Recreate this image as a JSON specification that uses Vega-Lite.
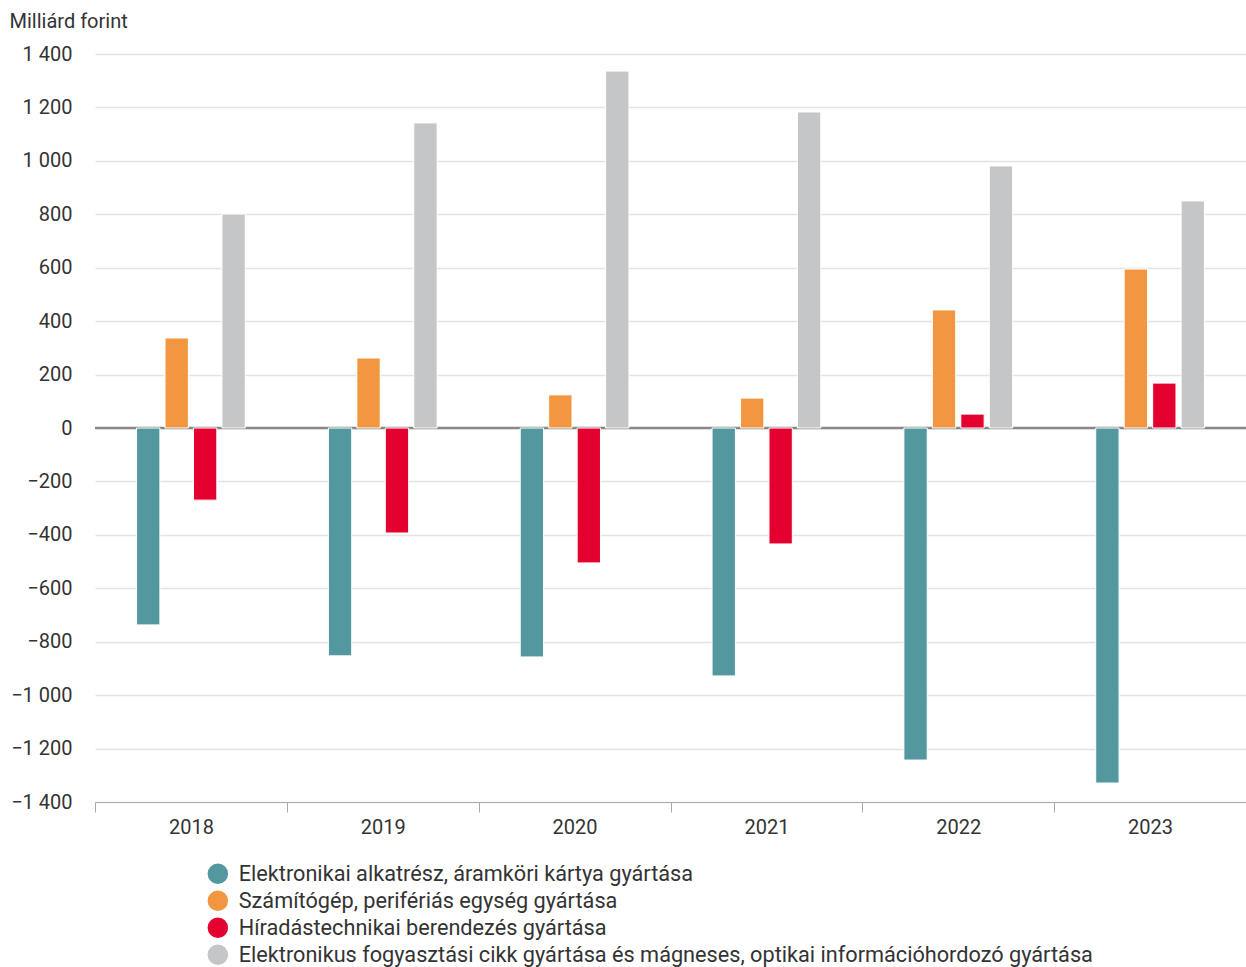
{
  "$schema": "https://vega.github.io/schema/vega-lite/v6.json",
  "width": 1151,
  "height": 748,
  "autosize": {"type": "none"},
  "padding": {"left": 95, "top": 54, "right": 0, "bottom": 165},
  "background": "white",
  "config": {
    "font": "Roboto",
    "view": {"stroke": null}
  },
  "data": {
    "values": [
      {"year": "2018", "series": "Elektronikai alkatrész, áramköri kártya gyártása", "value": -737},
      {"year": "2018", "series": "Számítógép, perifériás egység gyártása", "value": 337},
      {"year": "2018", "series": "Híradástechnikai berendezés gyártása", "value": -270},
      {"year": "2018", "series": "Elektronikus fogyasztási cikk gyártása és mágneses, optikai információhordozó gyártása", "value": 801},
      {"year": "2019", "series": "Elektronikai alkatrész, áramköri kártya gyártása", "value": -853},
      {"year": "2019", "series": "Számítógép, perifériás egység gyártása", "value": 262},
      {"year": "2019", "series": "Híradástechnikai berendezés gyártása", "value": -393},
      {"year": "2019", "series": "Elektronikus fogyasztási cikk gyártása és mágneses, optikai információhordozó gyártása", "value": 1142},
      {"year": "2020", "series": "Elektronikai alkatrész, áramköri kártya gyártása", "value": -857},
      {"year": "2020", "series": "Számítógép, perifériás egység gyártása", "value": 124},
      {"year": "2020", "series": "Híradástechnikai berendezés gyártása", "value": -505},
      {"year": "2020", "series": "Elektronikus fogyasztási cikk gyártása és mágneses, optikai információhordozó gyártása", "value": 1336},
      {"year": "2021", "series": "Elektronikai alkatrész, áramköri kártya gyártása", "value": -928},
      {"year": "2021", "series": "Számítógép, perifériás egység gyártása", "value": 112},
      {"year": "2021", "series": "Híradástechnikai berendezés gyártása", "value": -434},
      {"year": "2021", "series": "Elektronikus fogyasztási cikk gyártása és mágneses, optikai információhordozó gyártása", "value": 1183},
      {"year": "2022", "series": "Elektronikai alkatrész, áramköri kártya gyártása", "value": -1243},
      {"year": "2022", "series": "Számítógép, perifériás egység gyártása", "value": 442},
      {"year": "2022", "series": "Híradástechnikai berendezés gyártása", "value": 52},
      {"year": "2022", "series": "Elektronikus fogyasztási cikk gyártása és mágneses, optikai információhordozó gyártása", "value": 981},
      {"year": "2023", "series": "Elektronikai alkatrész, áramköri kártya gyártása", "value": -1329},
      {"year": "2023", "series": "Számítógép, perifériás egység gyártása", "value": 595},
      {"year": "2023", "series": "Híradástechnikai berendezés gyártása", "value": 168},
      {"year": "2023", "series": "Elektronikus fogyasztási cikk gyártása és mágneses, optikai információhordozó gyártása", "value": 850}
    ]
  },
  "layer": [
    {
      "data": {"values": [{"zero": 0}]},
      "mark": {"type": "rule", "color": "#888888", "strokeWidth": 2.5},
      "encoding": {"y": {"field": "zero", "type": "quantitative"}}
    },
    {
      "mark": {"type": "bar", "stroke": "white", "strokeWidth": 1},
      "encoding": {
        "x": {
          "field": "year", "type": "nominal",
          "scale": {"paddingInner": 0, "paddingOuter": 0},
          "axis": {
            "title": null, "labelAngle": 0, "tickBand": "extent",
            "tickSize": 10, "tickColor": "#aaaaaa", "domainColor": "#aaaaaa",
            "labelFontSize": 20, "labelColor": "#333333", "labelPadding": 5
          }
        },
        "xOffset": {
          "field": "series", "type": "nominal",
          "scale": {
            "domain": ["_pad1", "Elektronikai alkatrész, áramköri kártya gyártása", "Számítógép, perifériás egység gyártása", "Híradástechnikai berendezés gyártása", "Elektronikus fogyasztási cikk gyártása és mágneses, optikai információhordozó gyártása", "_pad2"],
            "paddingInner": 0.18, "paddingOuter": 0.46
          }
        },
        "y": {
          "field": "value", "type": "quantitative",
          "scale": {"domain": [-1400, 1400], "nice": false},
          "axis": {
            "title": "Milliárd forint", "titleAngle": 0, "titleAlign": "left",
            "titleBaseline": "middle", "titleX": -86, "titleY": -33,
            "titleFontSize": 20, "titleFontWeight": "normal", "titleColor": "#333333",
            "values": [-1400, -1200, -1000, -800, -600, -400, -200, 0, 200, 400, 600, 800, 1000, 1200, 1400],
            "labelExpr": "replace(format(datum.value, ','), ',', ' ')",
            "labelFontSize": 20, "labelColor": "#333333", "labelPadding": 23,
            "ticks": false, "domain": false,
            "gridColor": "#e3e3e3", "gridWidth": 1.5
          }
        },
        "color": {
          "field": "series", "type": "nominal",
          "scale": {
            "domain": ["Elektronikai alkatrész, áramköri kártya gyártása", "Számítógép, perifériás egység gyártása", "Híradástechnikai berendezés gyártása", "Elektronikus fogyasztási cikk gyártása és mágneses, optikai információhordozó gyártása"],
            "range": ["#53989e", "#f2973f", "#e4002f", "#c5c6c8"]
          },
          "legend": {
            "title": null, "orient": "none", "legendX": 112, "legendY": 809,
            "symbolType": "circle", "symbolSize": 420, "symbolStrokeWidth": 0,
            "labelFontSize": 21.7, "labelColor": "#333333", "labelOffset": 10,
            "rowPadding": 4, "labelLimit": 1100
          }
        }
      }
    }
  ]
}
